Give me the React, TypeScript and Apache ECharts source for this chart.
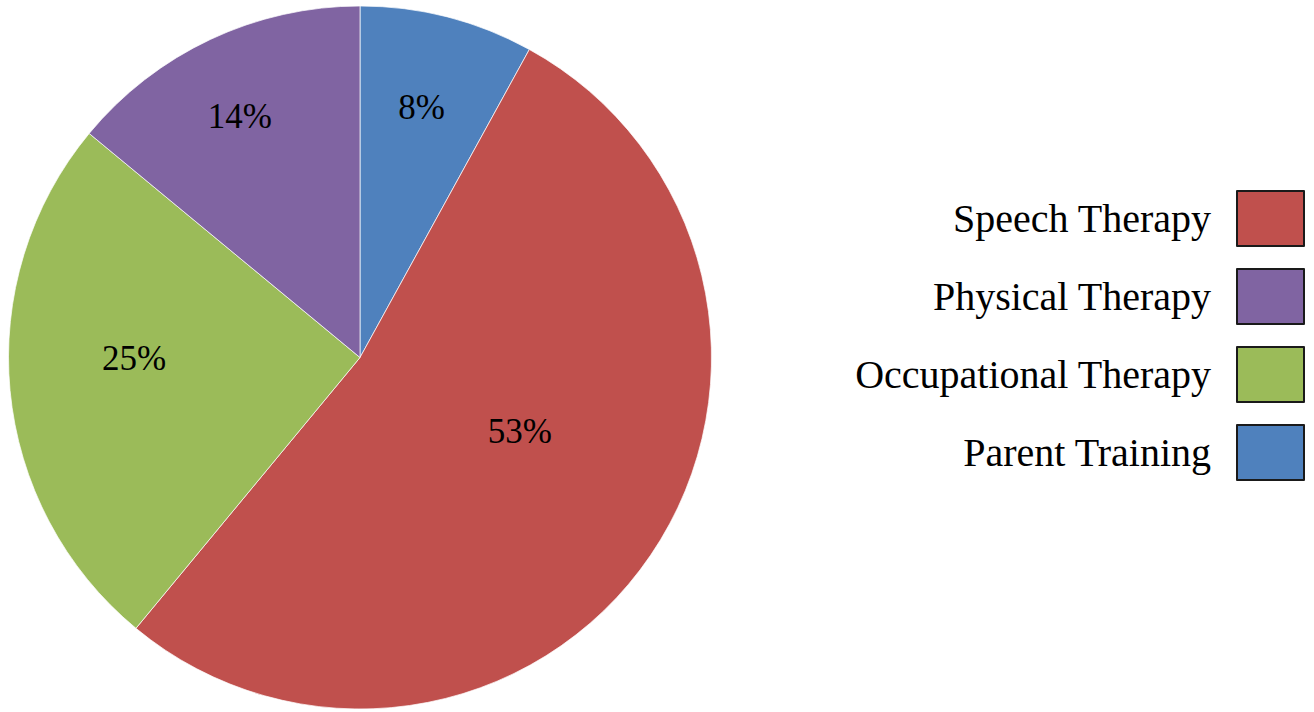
import React, { useEffect, useRef } from "react";
import * as echarts from "echarts";

// Slices in drawing order (clockwise from 12 o'clock)
const categories = ["Parent Training", "Speech Therapy", "Occupational Therapy", "Physical Therapy"];
const values = [8, 53, 25, 14];
const colors = ["#4F81BD", "#C0504D", "#9BBB59", "#8064A2"];
// Legend order
const legendOrder = ["Speech Therapy", "Physical Therapy", "Occupational Therapy", "Parent Training"];
// Label nudges (styling, to mimic the original's label placement)
const labelOffsets = [[17, -77], [12, -26], [-48, -16], [-44, -79]];

export default function App() {
  const ref = useRef<HTMLDivElement>(null);
  useEffect(() => {
    if (!ref.current) return;
    const chart = echarts.init(ref.current, null, { renderer: "svg" });
    chart.setOption({
      animation: false,
      backgroundColor: "#ffffff",
      legend: {
        data: legendOrder,
        orient: "vertical",
        right: 9,
        top: 190,
        padding: 0,
        align: "right",
        itemWidth: 67,
        itemHeight: 55,
        itemGap: 21,
        icon: "rect",
        itemStyle: { borderColor: "#1a1a1a", borderWidth: 2 },
        textStyle: {
          fontFamily: "Liberation Serif",
          fontSize: 40,
          lineHeight: 44,
          color: "#000",
          padding: [0, 21, 0, 0],
        },
      },
      series: [
        {
          type: "pie",
          center: [360, 357.5],
          radius: [0, 351.5],
          startAngle: 90,
          clockwise: true,
          itemStyle: { borderColor: "rgba(255,255,255,0.7)", borderWidth: 1 },
          label: {
            show: true,
            position: "inside",
            formatter: "{c}%",
            fontFamily: "Liberation Serif",
            fontSize: 35,
            color: "#000",
          },
          labelLine: { show: false },
          emphasis: { disabled: true },
          data: categories.map((name, i) => ({
            name,
            value: values[i],
            itemStyle: { color: colors[i] },
            label: { offset: labelOffsets[i] },
          })),
        },
      ],
    });
    return () => chart.dispose();
  }, []);
  return (
    <div
      ref={ref}
      style={{ position: "absolute", left: 0, top: 0, width: 1314, height: 712 }}
    />
  );
}
